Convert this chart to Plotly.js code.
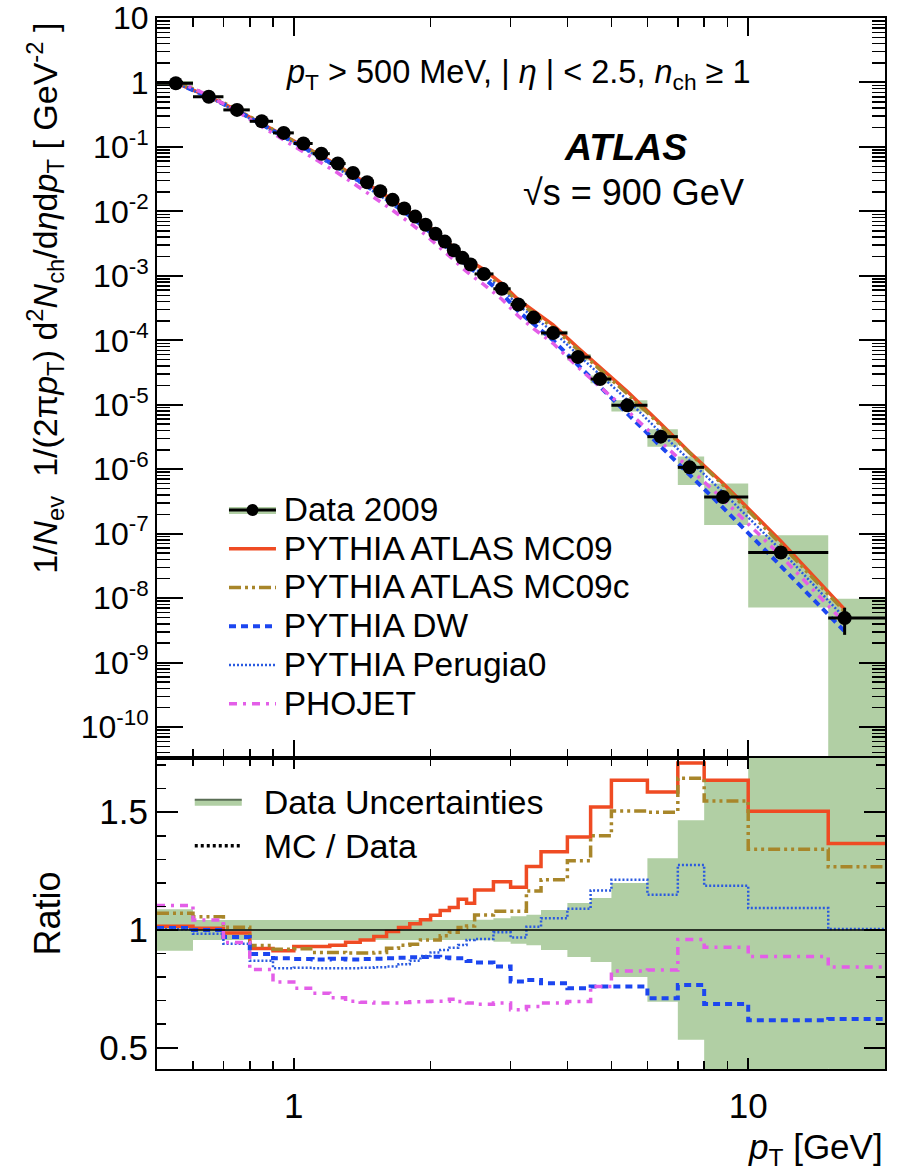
<!DOCTYPE html>
<html><head><meta charset="utf-8">
<script src="https://cdn.plot.ly/plotly-3.0.1.min.js"></script>
<style>html,body{margin:0;padding:0;background:#fff}</style>
</head><body><div id="chart" style="width:902px;height:1170px"></div>
<script>
// ---- data ----
const binLo = [0.5,0.6,0.7,0.8,0.9,1.0,1.1,1.2,1.3,1.4,1.5,1.6,1.7,1.8,1.9,2.0,2.1,2.2,2.3,2.4,2.5,2.75,3.0,3.25,3.5,4.0,4.5,5.0,6.0,7.0,8.0,10.0,15.0];
const binHi = [0.6,0.7,0.8,0.9,1.0,1.1,1.2,1.3,1.4,1.5,1.6,1.7,1.8,1.9,2.0,2.1,2.2,2.3,2.4,2.5,2.75,3.0,3.25,3.5,4.0,4.5,5.0,6.0,7.0,8.0,10.0,15.0,20.0];
const ptMean = [0.55,0.65,0.75,0.85,0.95,1.05,1.15,1.25,1.35,1.45,1.55,1.65,1.75,1.85,1.95,2.05,2.15,2.25,2.35,2.45,2.62,2.87,3.12,3.37,3.72,4.22,4.72,5.42,6.42,7.43,8.8,11.8,16.3];
const dataVal = [0.97,0.60,0.375,0.250,0.165,0.113,0.0785,0.0553,0.0393,0.0283,0.0206,0.0151,0.0111,0.0083,0.0062,0.0045,0.0034,0.0025,0.0019,0.0015,0.00107,6.3e-4,3.6e-4,2.25e-4,1.3e-4,5.5e-5,2.5e-5,9.8e-6,3.2e-6,1.07e-6,3.7e-7,5.1e-8,4.9e-9];
const statRel = [0.002,0.002,0.002,0.002,0.002,0.003,0.003,0.003,0.004,0.004,0.005,0.005,0.006,0.007,0.008,0.009,0.01,0.011,0.013,0.014,0.012,0.016,0.02,0.026,0.026,0.04,0.055,0.06,0.1,0.16,0.2,0.1,0.45];
const sysRel = [0.088,0.042,0.042,0.042,0.042,0.042,0.042,0.042,0.042,0.042,0.042,0.042,0.042,0.042,0.042,0.042,0.042,0.042,0.042,0.042,0.043,0.05,0.058,0.065,0.085,0.115,0.136,0.2,0.305,0.466,0.63,0.86,1.0];
const ratioMC09  = [1.016,1.007,0.987,0.921,0.912,0.930,0.930,0.935,0.948,0.958,0.972,0.994,1.011,1.027,1.044,1.063,1.083,1.095,1.130,1.113,1.170,1.205,1.181,1.270,1.332,1.395,1.522,1.636,1.586,1.709,1.636,1.504,1.367];
const ratioMC09c = [1.071,1.056,1.012,0.934,0.918,0.920,0.905,0.905,0.902,0.902,0.905,0.922,0.935,0.940,0.958,0.958,0.976,0.990,1.011,1.017,1.064,1.080,1.080,1.165,1.213,1.294,1.400,1.505,1.500,1.644,1.548,1.343,1.268];
const ratioDW     = [1.008,1.000,0.970,0.898,0.880,0.877,0.875,0.878,0.875,0.877,0.878,0.880,0.882,0.884,0.885,0.886,0.883,0.880,0.880,0.868,0.862,0.845,0.781,0.788,0.774,0.753,0.760,0.760,0.710,0.767,0.686,0.617,0.622];
const ratioPer0   = [1.003,0.984,0.942,0.869,0.838,0.840,0.838,0.838,0.838,0.840,0.842,0.845,0.855,0.870,0.890,0.905,0.915,0.925,0.936,0.958,0.962,0.990,0.968,1.014,1.050,1.090,1.168,1.213,1.150,1.276,1.188,1.093,1.004];
const ratioPHO    = [1.104,1.042,0.947,0.832,0.779,0.753,0.732,0.712,0.698,0.693,0.690,0.690,0.692,0.695,0.697,0.698,0.698,0.706,0.696,0.690,0.685,0.690,0.661,0.675,0.690,0.696,0.760,0.826,0.830,0.960,0.927,0.887,0.843];
const yTickVals = [10,1,1e-1,1e-2,1e-3,1e-4,1e-5,1e-6,1e-7,1e-8,1e-9,1e-10];
const yTickText = ['10','1','10<sup>-1</sup>','10<sup>-2</sup>','10<sup>-3</sup>','10<sup>-4</sup>','10<sup>-5</sup>','10<sup>-6</sup>','10<sup>-7</sup>','10<sup>-8</sup>','10<sup>-9</sup>','10<sup>-10</sup>'];

// ---- styles ----
const FONT = 'Liberation Sans, Arial, Helvetica, sans-serif';
const GREEN = '#b1cfa4';
const big = s => '<span style="font-size:33.5px">' + s + '</span>';
const models = [
  {name:'PYTHIA ATLAS MC09',  r:ratioMC09,  line:{color:'#ef4b23', width:3.5, dash:'solid'}},
  {name:'PYTHIA ATLAS MC09c', r:ratioMC09c, line:{color:'#a8862a', width:3.5, dash:'12px,4px,3px,4px,3px,4px'}},
  {name:'PYTHIA DW',          r:ratioDW,    line:{color:'#1c46f0', width:4,   dash:'7px,5px'}},
  {name:'PYTHIA Perugia0',    r:ratioPer0,  line:{color:'#2a5ae0', width:2.5, dash:'2px,2px'}},
  {name:'PHOJET',             r:ratioPHO,   line:{color:'#e35ee8', width:3.5, dash:'8px,6px,3px,6px'}}
];

const traces = [];
// data uncertainty boxes, top panel
const bx = [], by = [];
for (let i = 0; i < binLo.length; i++) {
  const lo = Math.max(dataVal[i]*(1-sysRel[i]), 1e-13), hi = dataVal[i]*(1+sysRel[i]);
  bx.push(binLo[i], binHi[i], binHi[i], binLo[i], binLo[i], null);
  by.push(lo, lo, hi, hi, lo, null);
}
traces.push({x:bx, y:by, xaxis:'x', yaxis:'y', mode:'lines', fill:'toself', fillcolor:GREEN,
  line:{width:0}, showlegend:false, hoverinfo:'skip'});
// ratio band
const rx = [], ry = [];
for (let i = 0; i < binLo.length; i++) {
  rx.push(binLo[i], binHi[i], binHi[i], binLo[i], binLo[i], null);
  ry.push(1-sysRel[i], 1-sysRel[i], 1+sysRel[i], 1+sysRel[i], 1-sysRel[i], null);
}
traces.push({x:rx, y:ry, xaxis:'x2', yaxis:'y2', mode:'lines', fill:'toself', fillcolor:GREEN,
  line:{width:0}, showlegend:false, hoverinfo:'skip'});

// legend: green box for data (drawn underneath the data symbol of legend3)
traces.push({x:[null], y:[null], xaxis:'x2', yaxis:'y2', mode:'lines', fill:'toself', fillcolor:GREEN,
  line:{color:GREEN, width:2}, name:'\u00a0', legend:'legend', legendgroup:'g0'});

// MC curves top panel
models.forEach((m, k) => {
  traces.push({x:ptMean, y:dataVal.map((v,i)=>v*m.r[i]), xaxis:'x', yaxis:'y', mode:'lines',
    line:m.line, name:big('\u200a' + m.name), legend:'legend', legendgroup:'g'+(k+1)});
});
// data points
traces.push({x:ptMean, y:dataVal, xaxis:'x', yaxis:'y', mode:'markers',
  marker:{color:'black', size:14},
  error_x:{type:'data', symmetric:false, array:binHi.map((h,i)=>h-ptMean[i]), arrayminus:binLo.map((l,i)=>ptMean[i]-l), color:'black', thickness:3, width:0},
  error_y:{type:'data', symmetric:true, array:dataVal.map((v,i)=>v*statRel[i]), color:'black', thickness:3, width:0},
  showlegend:false});
// legend entry for data (line + marker)
traces.push({x:[null], y:[null], xaxis:'x', yaxis:'y', mode:'lines+markers',
  line:{color:'black', width:3}, marker:{color:'black', size:12}, name:big('\u200aData 2009'),
  legend:'legend3'});

// ratio step lines
const stepX = binLo.concat([binHi[binHi.length-1]]);
models.forEach(m => {
  traces.push({x:stepX, y:m.r.concat([m.r[m.r.length-1]]), xaxis:'x2', yaxis:'y2', mode:'lines',
    line:Object.assign({}, m.line, {shape:'hv'}), showlegend:false});
});
// ratio legend entries
const big2 = s => '<span style="font-size:34px">\u2002' + s + '</span>';
traces.push({x:[null], y:[null], xaxis:'x2', yaxis:'y2', mode:'lines', fill:'toself', fillcolor:GREEN,
  line:{color:'#5a6e55', width:2}, name:big2('Data Uncertainties'), legend:'legend2', legendgroup:'r0'});
traces.push({x:[null], y:[null], xaxis:'x2', yaxis:'y2', mode:'lines',
  line:{color:'black', width:3.5, dash:'3px,3px'}, name:big2('MC / Data'), legend:'legend2', legendgroup:'r1'});

const split = 0.2959;
const axLine = {showline:true, linecolor:'black', linewidth:2, mirror:'ticks', ticks:'inside', tickcolor:'black', zeroline:false, showgrid:false};
const legTop = {x:0.092, y:0.555, xanchor:'left', yanchor:'top', bgcolor:'rgba(0,0,0,0)', font:{size:27.5, family:FONT},
    itemwidth:47, traceorder:'grouped', tracegroupgap:0};
const layout = {
  width:902, height:1170,
  margin:{l:157, r:17, t:18, b:101},
  paper_bgcolor:'white', plot_bgcolor:'white',
  font:{family:FONT, color:'black'},
  showlegend:true,
  xaxis: Object.assign({}, axLine, {type:'log', domain:[0,1], anchor:'y', matches:'x2', range:[Math.log10(0.5), Math.log10(20)],
    tickvals:[1,10], showticklabels:false, ticklen:18, tickwidth:2,
    minor:{ticks:'inside', ticklen:9, tickcolor:'black', tickwidth:1.5, dtick:'D1'}}),
  yaxis: Object.assign({}, axLine, {type:'log', domain:[split,1], anchor:'x', range:[-10.48, 1],
    tickmode:'array', tickvals:yTickVals, ticktext:yTickText, ticklen:26, tickwidth:2,
    tickfont:{size:32}, ticklabelstandoff:0,
    minor:{ticks:'inside', ticklen:13, tickcolor:'black', tickwidth:1.5, dtick:'D1'}}),
  xaxis2: Object.assign({}, axLine, {type:'log', domain:[0,1], anchor:'y2', range:[Math.log10(0.5), Math.log10(20)],
    tickvals:[1,10], ticktext:['1','10'], ticklen:11, tickwidth:2, tickfont:{size:35}, ticklabelstandoff:5,
    minor:{ticks:'inside', ticklen:8, tickcolor:'black', tickwidth:1.5, dtick:'D1'}}),
  yaxis2: Object.assign({}, axLine, {domain:[0,split], anchor:'x2', range:[0.41, 1.73],
    tickvals:[0.5,1,1.5], ticktext:['0.5','1','1.5'], ticklen:21, tickwidth:2, tickfont:{size:35}, ticklabelstandoff:0,
    title:{text:'Ratio', font:{size:36}, standoff:28},
    minor:{ticks:'inside', ticklen:9, tickcolor:'black', tickwidth:1.5, dtick:0.1}}),
  legend: legTop,
  legend3: Object.assign({}, legTop),
  legend2:{x:0.045, y:0.280, xanchor:'left', yanchor:'top', bgcolor:'rgba(0,0,0,0)', font:{size:31.5, family:FONT},
    itemwidth:47, traceorder:'grouped', tracegroupgap:0},
  shapes:[{type:'line', xref:'x2 domain', x0:0, x1:1, yref:'y2', y0:1, y1:1, line:{color:'black', width:1.5}}],
  annotations:[
    {xref:'paper', yref:'paper', x:-0.155, y:0.997, xanchor:'center', yanchor:'top', textangle:-90, showarrow:false,
     font:{size:34},
     text:'1/<i>N</i><sub>ev</sub>  1/(2π<i>p</i><sub>T</sub>) d<sup>2</sup><i>N</i><sub>ch</sub>/d<i>η</i>d<i>p</i><sub>T</sub> [ GeV<sup>-2</sup> ]'},
    {xref:'paper', yref:'paper', x:1, y:-0.076, xanchor:'right', yanchor:'middle', showarrow:false, font:{size:35},
     text:'<i>p</i><sub>T</sub> [GeV]'},
    {xref:'paper', yref:'paper', x:0.496, y:0.9458, xanchor:'center', yanchor:'middle', showarrow:false, font:{size:32.5},
     text:'<i>p</i><sub>T</sub> > 500 MeV, | <i>η</i> | < 2.5, <i>n</i><sub>ch</sub> ≥ 1'},
    {xref:'paper', yref:'paper', x:0.643, y:0.877, xanchor:'center', yanchor:'middle', showarrow:false, font:{size:37.5},
     text:'<b><i>ATLAS</i></b>'},
    {xref:'paper', yref:'paper', x:0.654, y:0.834, xanchor:'center', yanchor:'middle', showarrow:false, font:{size:36},
     text:'√s = 900 GeV'}
  ]
};
Plotly.newPlot('chart', traces, layout, {staticPlot:true, displayModeBar:false});
</script></body></html>
